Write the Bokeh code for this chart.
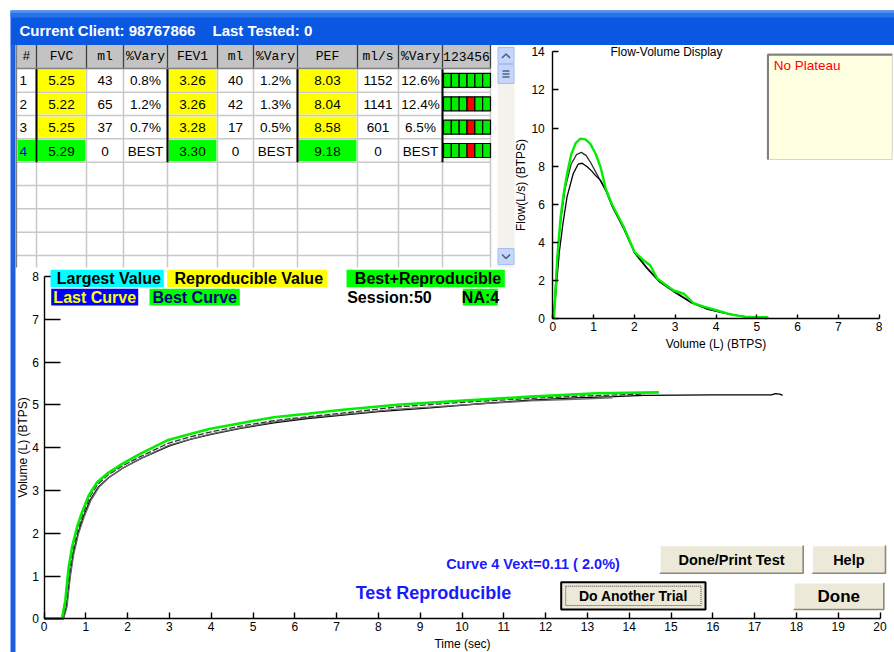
from bokeh.plotting import figure
from bokeh.models import Range1d, LinearAxis, FixedTicker
from bokeh.core.properties import value
from bokeh.embed import file_html
from bokeh.resources import INLINE

# ---------------- data ----------------
client_id = "98767866"
last_tested = "0"
session_no = 50
na_count = 4

trials = [1, 2, 3, 4]
status = ["R", "R", "R", "B"]          # R = reproducible, B = best + reproducible
fvc = [5.25, 5.22, 5.25, 5.29]
fvc_ml = [43, 65, 37, 0]
fvc_vary = ["0.8%", "1.2%", "0.7%", "BEST"]
fev1 = [3.26, 3.26, 3.28, 3.30]
fev1_ml = [40, 42, 17, 0]
fev1_vary = ["1.2%", "1.3%", "0.5%", "BEST"]
pef = [8.03, 8.04, 8.58, 9.18]
pef_mls = [1152, 1141, 601, 0]
pef_vary = ["12.6%", "12.4%", "6.5%", "BEST"]
quality = ["GGGGGG", "GGGRGG", "GGGRGG", "GGGRGG"]
headers = ["#", "FVC", "ml", "%Vary", "FEV1", "ml", "%Vary", "PEF", "ml/s", "%Vary", "123456"]

vext_curve = 4
vext = 0.11
vext_pct = 2.0

# volume-time curves (time s, volume L)
vt1_t = [0, 0.46, 0.54, 0.62, 0.7, 0.82, 0.95, 1.1, 1.3, 1.55, 1.9, 2.35, 3.0, 3.5, 4.0, 4.7, 5.5, 6.3,
         6.85, 8.0, 9.24, 10.5, 11.64, 12.7, 13.63, 14.35, 16.0, 17.4, 17.5, 17.6, 17.67]
vt1_v = [0, 0, 0.3, 1.0, 1.52, 2.02, 2.4, 2.77, 3.08, 3.3, 3.53, 3.76, 4.04, 4.19, 4.31, 4.45, 4.58, 4.68,
         4.73, 4.84, 4.93, 5.03, 5.11, 5.16, 5.19, 5.22, 5.23, 5.23, 5.26, 5.25, 5.22]
vt2_t = [0, 0.45, 0.53, 0.61, 0.69, 0.81, 0.93, 1.09, 1.29, 1.53, 1.89, 2.33, 2.97, 3.5, 4.0, 4.7, 5.5, 6.3,
         7.09, 8.45, 10.04, 11.64, 13.0, 14.35]
vt2_v = [0, 0, 0.36, 1.1, 1.6, 2.08, 2.44, 2.84, 3.15, 3.36, 3.58, 3.8, 4.1, 4.25, 4.37, 4.5, 4.63, 4.72,
         4.8, 4.95, 5.06, 5.15, 5.21, 5.25]
vt3_t = [0, 0.47, 0.55, 0.63, 0.71, 0.83, 0.96, 1.12, 1.32, 1.57, 1.92, 2.37, 3.0, 3.5, 4.0, 4.7, 5.5, 6.3,
         7.09, 8.45, 10.04, 11.64, 12.7, 13.6]
vt3_v = [0, 0, 0.28, 0.98, 1.5, 2.0, 2.38, 2.76, 3.08, 3.31, 3.54, 3.77, 4.06, 4.2, 4.32, 4.46, 4.6, 4.7,
         4.77, 4.9, 5.0, 5.09, 5.13, 5.16]
vt4_t = [0, 0.43, 0.51, 0.59, 0.67, 0.79, 0.91, 1.07, 1.27, 1.51, 1.87, 2.31, 2.95, 3.5, 3.98, 4.7, 5.5,
         6.3, 7.09, 8.45, 10.04, 11.64, 13.23, 14.71]
vt4_v = [0, 0, 0.43, 1.2, 1.67, 2.14, 2.49, 2.88, 3.19, 3.39, 3.62, 3.86, 4.17, 4.32, 4.44, 4.57, 4.71,
         4.79, 4.88, 5.0, 5.1, 5.19, 5.27, 5.29]

# flow-volume curves (volume L, flow L/s)
fv1_vol = [0, 0.04, 0.08, 0.13, 0.2, 0.3, 0.45, 0.58, 0.7, 0.82, 0.95, 1.1, 1.3, 1.45, 1.74, 2.0, 2.3, 2.6,
           3.0, 3.4, 3.8, 4.2, 4.6, 5.0, 5.22]
fv1_flow = [0, 0.8, 2.2, 3.8, 5.2, 6.8, 8.1, 8.6, 8.72, 8.55, 8.1, 7.5, 6.7, 5.95, 4.75, 3.5, 2.7, 2.0,
            1.4, 0.85, 0.5, 0.3, 0.13, 0.05, 0]
fv2_vol = [0, 0.05, 0.1, 0.16, 0.25, 0.35, 0.5, 0.62, 0.72, 0.85, 0.95, 1.05, 1.17, 1.3, 1.45, 1.74, 2.0,
           2.3, 2.6, 3.0, 3.4, 3.8, 4.2, 4.6, 5.0, 5.25]
fv2_flow = [0, 0.7, 2.0, 3.5, 5.0, 6.4, 7.6, 8.1, 8.15, 7.95, 7.75, 7.5, 7.25, 6.75, 5.9, 4.7, 3.45,
            2.65, 1.95, 1.35, 0.82, 0.48, 0.28, 0.12, 0.05, 0]
fv4_vol = [0, 0.03, 0.07, 0.11, 0.19, 0.27, 0.36, 0.45, 0.56, 0.68, 0.8, 0.92, 1.05, 1.17, 1.3, 1.45,
           1.74, 2.0, 2.2, 2.39, 2.56, 2.75, 2.96, 3.21, 3.45, 3.7, 4.03, 4.35, 4.68, 5.0, 5.25, 5.28]
fv4_flow = [0, 0.1, 1.5, 3.2, 5.3, 6.6, 7.7, 8.6, 9.2, 9.44, 9.4, 9.17, 8.65, 7.95, 6.8, 6.0,
            4.8, 3.5, 3.1, 2.78, 2.1, 1.8, 1.47, 1.3, 0.8, 0.62, 0.42, 0.22, 0.1, 0.07, 0.07, 0]

time_ticks = list(range(0, 21))
vol_ticks = list(range(0, 9))
fv_vol_ticks = list(range(0, 9))
fv_flow_ticks = [0, 2, 4, 6, 8, 10, 12, 14]

# ---------------- layout (page pixel coordinates) ----------------
W, H = 894, 652
X0, X1, Y0, Y1 = 0, 894, 0, 652
T_PX0, T_PPU = 43.5, 41.8
V_PX0, V_PPU = 618.3, 42.8
FX_PX0, FX_PPU = 552.3, 40.8
FY_PX0, FY_PPU = 318.0, 19.05

SANS = "Liberation Sans"
MONO = "Liberation Mono"
GREEN = "#00FF00"
YELLOW = "#FFFF00"
CYAN = "#00FFFF"
BLUE_TXT = "#1A1AFF"

p = figure(width=W, height=H, x_range=Range1d(X0, X1), y_range=Range1d(Y1, Y0),
           x_axis_type=None, y_axis_type=None, output_backend="svg",
           toolbar_location=None, min_border=0, outline_line_color=None,
           background_fill_color="white", border_fill_color="white")
p.extra_x_ranges = {"t": Range1d((X0 - T_PX0) / T_PPU, (X1 - T_PX0) / T_PPU),
                    "fvx": Range1d((X0 - FX_PX0) / FX_PPU, (X1 - FX_PX0) / FX_PPU)}
p.extra_y_ranges = {"v": Range1d((V_PX0 - Y1) / V_PPU, (V_PX0 - Y0) / V_PPU),
                    "fvy": Range1d((FY_PX0 - Y1) / FY_PPU, (FY_PX0 - Y0) / FY_PPU)}


def T(xs, ys, texts, size, color="#000000", font=SANS, bold=False, align="center", level=None):
    r = p.text(x=xs, y=ys, text=texts, text_font=value(font), text_font_size=value(size),
               text_color=color, text_font_style="bold" if bold else "normal",
               text_align=align, text_baseline="middle")
    if level:
        r.level = level
    return r


def Q(l, r, t, b, fill, line=None, lw=1, level=None, dash=None):
    kw = dict(fill_color=fill, line_color=line, line_width=lw)
    if dash:
        kw["line_dash"] = dash
    g = p.quad(left=[l], right=[r], top=[t], bottom=[b], **kw)
    if level:
        g.level = level
    return g


# ---------------- window chrome ----------------
Q(10, 894, 10, 44.5, "#0A58E2")
Q(10, 894, 10, 13, "#4A90F2")
Q(10, 894, 13, 17, "#2A72EC")
Q(10, 15, 44, 652, "#1E5FE0")
T([19], [30], ["Current Client: " + client_id], "15px", color="white", bold=True, align="left")
T([212], [30], ["Last Tested: " + last_tested], "15px", color="white", bold=True, align="left")

# ---------------- table ----------------
COLS = [16, 36, 86, 123, 167, 217, 253, 297, 357, 398, 442, 490]
HDR_TOP, HDR_BOT = 44.5, 68
ROWS = [68, 91.7, 115, 138.3, 161.7, 185, 208.3, 231.7, 255, 267]

Q(COLS[0], COLS[-1], HDR_TOP, ROWS[-1], "white")
p.quad(left=COLS[:-1], right=COLS[1:], top=[HDR_TOP] * 11, bottom=[HDR_BOT] * 11,
       fill_color="#C3C3C3", line_color=None)

fl, fr, ft, fb, fc = [], [], [], [], []
for i, st in enumerate(status):
    for c in (0, 1, 4, 7):
        if c == 0 and st != "B":
            continue
        fl.append(COLS[c] + 1); fr.append(COLS[c + 1] - 1)
        ft.append(ROWS[i] + 1); fb.append(ROWS[i + 1] - 1)
        fc.append(GREEN if st == "B" else YELLOW)
p.quad(left=fl, right=fr, top=ft, bottom=fb, fill_color=fc, line_color=None)

# grid lines
hx, hy = [], []
for y in ROWS[1:-1]:
    hx.append([COLS[0], COLS[-1]]); hy.append([y, y])
for x in COLS[1:]:
    hx.append([x, x]); hy.append([HDR_BOT, ROWS[-1]])
p.multi_line(xs=hx, ys=hy, line_color="#C8C8C8", line_width=1.5)
dx, dy = [], []
for c in (1, 4, 7, 10):
    dx.append([COLS[c], COLS[c]]); dy.append([ROWS[0], ROWS[4]])
p.multi_line(xs=dx, ys=dy, line_color="#000000", line_width=2)
sx, sy = [], []
for x in COLS[1:]:
    sx.append([x, x]); sy.append([HDR_TOP, HDR_BOT])
p.multi_line(xs=sx, ys=sy, line_color="#404040", line_width=1.3)
p.multi_line(xs=[[COLS[0], COLS[-1]], [COLS[0], COLS[0]]], ys=[[HDR_BOT, HDR_BOT], [HDR_TOP, ROWS[-1]]],
             line_color="#808080", line_width=1.3)

cx = [(COLS[i] + COLS[i + 1]) / 2 for i in range(11)]
T(cx, [56] * 11, headers, "13px", font=MONO)

tx, ty, tt = [], [], []
for i in range(4):
    yc = (ROWS[i] + ROWS[i + 1]) / 2 + 0.5
    vals = [f"{fvc[i]:.2f}", str(fvc_ml[i]), fvc_vary[i], f"{fev1[i]:.2f}", str(fev1_ml[i]), fev1_vary[i],
            f"{pef[i]:.2f}", str(pef_mls[i]), pef_vary[i]]
    for j, s in enumerate(vals):
        tx.append(cx[j + 1]); ty.append(yc); tt.append(s)
T(tx, ty, tt, "13.5px")
T([COLS[0] + 3] * 4, [(ROWS[i] + ROWS[i + 1]) / 2 + 0.5 for i in range(4)], [str(t) for t in trials],
  "13.5px", color=["#0000CC" if s == "B" else "#000000" for s in status], align="left")

ql, qr, qt, qb, qc = [], [], [], [], []
bw = (COLS[11] - COLS[10] - 1) / 6
for i, q in enumerate(quality):
    yc = (ROWS[i] + ROWS[i + 1]) / 2
    for k, ch in enumerate(q):
        ql.append(COLS[10] + 1 + k * bw); qr.append(COLS[10] + 1 + (k + 1) * bw)
        qt.append(yc - 7); qb.append(yc + 7)
        qc.append("#00EE00" if ch == "G" else "#FF0000")
p.quad(left=ql, right=qr, top=qt, bottom=qb, fill_color=qc, line_color="#000000", line_width=1.2)

# scrollbar
Q(497, 514, HDR_TOP, ROWS[-1], "#F3F2EC")
Q(497.5, 513.5, 47, 63, "#C6D6FA", line="#A9BEEC")
Q(497.5, 513.5, 64, 83, "#C6D6FA", line="#A9BEEC")
Q(497.5, 513.5, 248, 264, "#C6D6FA", line="#A9BEEC")
p.multi_line(xs=[[501.5, 505.5, 509.5], [501.5, 505.5, 509.5], [502, 509], [502, 509], [502, 509]],
             ys=[[57.5, 53.5, 57.5], [254, 258, 254], [70.5, 70.5], [73.5, 73.5], [76.5, 76.5]],
             line_color="#4D6185", line_width=1.6)

# ---------------- legend boxes ----------------
LV = "overlay"
Q(50, 163.3, 269.3, 286.7, CYAN, level=LV)
Q(166.7, 326.7, 269.3, 286.7, YELLOW, level=LV)
Q(346, 504.3, 269.3, 286.7, GREEN, level=LV)
Q(50.7, 137.7, 288.3, 305, "#0000FF", level=LV)
Q(149, 239.3, 288.3, 305, GREEN, level=LV)
Q(462.3, 497.3, 288.3, 305, GREEN, level=LV)
T([108.3, 248.3, 427.5], [278] * 3, ["Largest Value", "Reproducible Value", "Best+Reproducible"],
  "16px", bold=True, level=LV)
T([94.2], [297], ["Last Curve"], "16px", color="#FFFF00", bold=True, level=LV)
T([194.2], [297], ["Best Curve"], "16px", color="#000080", bold=True, level=LV)
T([346.7], [297], [f"Session:{session_no}"], "16px", bold=True, align="left", level=LV)
T([480], [297], [f"NA:{na_count}"], "16px", bold=True, level=LV)

# ---------------- volume-time plot ----------------
p.line(vt1_t, vt1_v, x_range_name="t", y_range_name="v", line_color="#000000", line_width=1.3)
p.line(vt3_t, vt3_v, x_range_name="t", y_range_name="v", line_color="#6A6A6A", line_width=1.3)
p.line(vt2_t, vt2_v, x_range_name="t", y_range_name="v", line_color="#333333", line_width=1.3,
       line_dash="6 2")
p.line(vt4_t, vt4_v, x_range_name="t", y_range_name="v", line_color="#00EE00", line_width=2.6)


def style_axis(ax, tick_in, standoff, label_standoff):
    ax.major_tick_in = tick_in
    ax.major_tick_out = 0
    ax.minor_tick_line_color = None
    ax.axis_line_color = "#000000"
    ax.axis_line_width = 1.4
    ax.major_tick_line_color = "#000000"
    ax.major_tick_line_width = 1.4
    ax.major_label_text_font = SANS
    ax.major_label_text_font_size = "12px"
    ax.major_label_text_color = "#000000"
    ax.major_label_standoff = standoff
    ax.axis_label_text_font = SANS
    ax.axis_label_text_font_size = "12px"
    ax.axis_label_text_font_style = "normal"
    ax.axis_label_text_color = "#000000"
    ax.axis_label_standoff = label_standoff


ax_t = LinearAxis(x_range_name="t", y_range_name="v", fixed_location=0, bounds=(0, 20),
                  ticker=FixedTicker(ticks=time_ticks), axis_label="Time (sec)")
style_axis(ax_t, 6, 3, 3)
p.add_layout(ax_t, "below")
ax_v = LinearAxis(x_range_name="t", y_range_name="v", fixed_location=0, bounds=(0, 8),
                  ticker=FixedTicker(ticks=vol_ticks), axis_label="Volume (L) (BTPS)")
style_axis(ax_v, 16, 5, 0)
p.add_layout(ax_v, "left")

# ---------------- flow-volume plot ----------------
p.line(fv1_vol, fv1_flow, x_range_name="fvx", y_range_name="fvy", line_color="#303030", line_width=1.3)
p.line(fv2_vol, fv2_flow, x_range_name="fvx", y_range_name="fvy", line_color="#000000", line_width=1.3)
p.line(fv4_vol, fv4_flow, x_range_name="fvx", y_range_name="fvy", line_color="#00EE00", line_width=2.4)

ax_fx = LinearAxis(x_range_name="fvx", y_range_name="fvy", fixed_location=0, bounds=(0, 8),
                   ticker=FixedTicker(ticks=fv_vol_ticks), axis_label="Volume (L) (BTPS)")
style_axis(ax_fx, 4, 3, 3)
p.add_layout(ax_fx, "below")
ax_fy = LinearAxis(x_range_name="fvx", y_range_name="fvy", fixed_location=0, bounds=(0, 14),
                   ticker=FixedTicker(ticks=fv_flow_ticks), axis_label="Flow(L/s) (BTPS)")
style_axis(ax_fy, 6, 8, 0)
p.add_layout(ax_fy, "left")

T([666], [51.7], ["Flow-Volume Display"], "12px")
Q(766.7, 891.7, 53.3, 159, "#FFFFE1", line="#D8D6C8", lw=1)
p.multi_line(xs=[[767.5, 767.5, 891.7]], ys=[[159, 54.2, 54.2]], line_color="#808080", line_width=2)
T([773.3], [65], ["No Plateau"], "13.5px", color="#FF0000", align="left")

# ---------------- status texts ----------------
T([532.5], [563.3], [f"Curve {vext_curve} Vext={vext:.2f} ( {vext_pct:.1f}%)"], "14.5px",
  color=BLUE_TXT, bold=True)
T([433], [592], ["Test Reproducible"], "18px", color=BLUE_TXT, bold=True)


# ---------------- buttons ----------------
def button(l, r, t, b, label, size, focused=False):
    Q(l, r, t, b, "#ECE9D8", line="#000000" if focused else None, lw=2 if focused else 1)
    if not focused:
        p.multi_line(xs=[[l, l, r], [l, r, r]], ys=[[b, t, t], [b, b, t]],
                     line_color=["#FFFFFF", "#8A887E"], line_width=1.6)
    else:
        Q(l + 4.5, r - 4.5, t + 4, b - 4, None, line="#404040", lw=1, dash="1 1")
    T([(l + r) / 2], [(t + b) / 2 + 0.5], [label], size, bold=True)


button(659.3, 802.7, 545, 572.7, "Done/Print Test", "14.5px")
button(811.7, 885, 545, 572.7, "Help", "14.5px")
button(560.7, 705, 581.7, 609, "Do Another Trial", "14px", focused=True)
button(793.3, 883.3, 582.3, 609, "Done", "17px")

open("out.html", "w").write(file_html(p, INLINE))
